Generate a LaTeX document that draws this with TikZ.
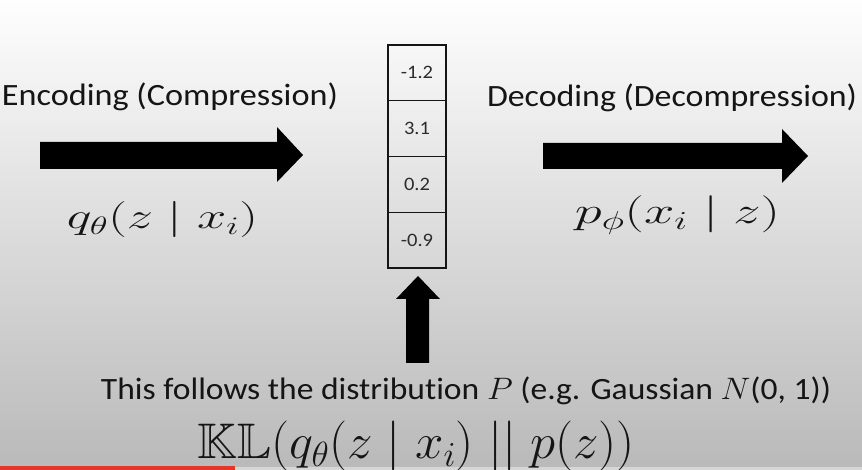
\RequirePackage{fix-cm}
\documentclass[tikz,border=0pt]{standalone}
\usepackage{graphicx}
\usepackage{amssymb}
\usepackage{fontspec}
\setmainfont[Ligatures=NoCommon]{Carlito}
\definecolor{bgtop}{HTML}{FEFEFE}
\definecolor{bgbot}{HTML}{B9B9B9}
\definecolor{ink}{HTML}{151515}
\definecolor{ytred}{HTML}{E5362C}
\definecolor{ytgray}{HTML}{D6D6D6}
\newcommand{\fitw}[2]{\resizebox{#1}{\height}{#2}}
\tikzset{
  caption/.style={text=ink, inner sep=0pt, anchor=base, font=\fontsize{31}{36}\selectfont},
  formula/.style={text=ink, inner sep=0pt, anchor=base},
  cell/.style={draw=ink, line width=1.2pt, minimum width=58pt, minimum height=55.75pt,
    inner sep=0pt, text=ink!90, font=\fontsize{19}{22}\selectfont},
  blockarrow/.style={fill=black, draw=none}
}
\begin{document}
\begin{tikzpicture}[x=1pt,y=1pt]
\useasboundingbox (0,0) rectangle (862,470);
\shade[top color=bgtop, bottom color=bgbot] (0,0) rectangle (862,470);
\fill[ytgray] (0,0) rectangle (862,3);
\fill[ytred] (0,0) rectangle (235,4);

% captions
\node[caption] (enc) at (170,364) {\fitw{336pt}{Encoding (Compression)}};
\node[caption] (dec) at (672,363) {\fitw{370pt}{Decoding (Decompression)}};

% formulas
\node[formula, font=\fontsize{36}{42}\selectfont] (q) at (162.5,241) {\fitw{191pt}{$q_\theta(z \mid x_i)$}};
\node[formula, font=\fontsize{37}{42}\selectfont] (p) at (677.5,246.25) {\fitw{205pt}{$p_\phi(x_i \mid z)$}};

% latent vector
\node[cell] (c1) at (417,397.125) {\scalebox{1.08}[1]{-1.2}};
\node[cell] (c2) at (417,341.375) {\scalebox{1.08}[1]{3.1}};
\node[cell] (c3) at (417,285.625) {\scalebox{1.08}[1]{0.2}};
\node[cell] (c4) at (417,229.875) {\scalebox{1.08}[1]{-0.9}};

% block arrows
\fill[blockarrow] (40,301) -- (40,328) -- (277,328) -- (277,343) -- (303,315) -- (277,288) -- (277,301) -- cycle;
\fill[blockarrow] (543,301) -- (543,327) -- (782,327) -- (782,341) -- (808,314) -- (782,287) -- (782,301) -- cycle;
\fill[blockarrow] (406,107) -- (429,107) -- (429,171) -- (440,171) -- (418,194) -- (396,171) -- (406,171) -- cycle;

% bottom text
\node[caption] (dist) at (466,70) {\fitw{730pt}{This follows the distribution $P$ (e.g. Gaussian $N$(0, 1))}};
\node[formula, font=\fontsize{50}{56}\selectfont] (kl) at (416.5,11) {\fitw{437pt}{$\mathbb{KL}(q_\theta(z \mid x_i) \mathrel{||} p(z))$}};
\end{tikzpicture}
\end{document}
